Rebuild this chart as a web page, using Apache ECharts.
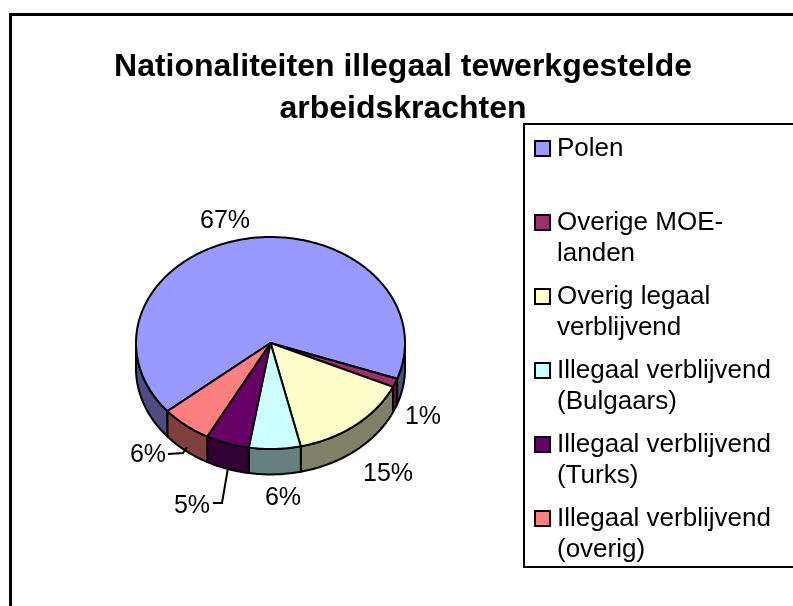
<!DOCTYPE html>
<html>
<head>
<meta charset="utf-8">
<style>
  html, body { margin: 0; padding: 0; background: #fff; }
  #chart { width: 793px; height: 606px; }
</style>
<script src="https://cdn.jsdelivr.net/npm/echarts@6/dist/echarts.min.js"></script>
</head>
<body>
<div id="chart"></div>
<script>
// data
const titleText = 'Nationaliteiten illegaal tewerkgestelde\narbeidskrachten';
const categories = [
  'Polen',
  'Overige MOE-\nlanden',
  'Overig legaal\nverblijvend',
  'Illegaal verblijvend\n(Bulgaars)',
  'Illegaal verblijvend\n(Turks)',
  'Illegaal verblijvend\n(overig)'
];
const values = [66.6, 1.3, 14.6, 6.2, 5.2, 6.1];
const percentLabels = ['67%', '1%', '15%', '6%', '5%', '6%'];
const topColors = ['#9999FF', '#993366', '#FFFFCC', '#CCFFFF', '#660066', '#FF8080'];
const wallColors = ['#4D4D80', '#4D1A33', '#808066', '#668080', '#330033', '#804040'];

// layout (pixels)
const FONT = '"Liberation Sans", Arial, sans-serif';
const START_ANGLE = 140;
const DEPTH = 0.24; // wall height, in y axis units
const labelPos = [[225, 221], [423, 417], [388, 474], [283, 498], [192, 506], [148, 455]];
const leaders = {
  4: [[213, 503], [222, 503], [228, 468]],
  5: [[168, 454], [183, 453], [187, 447]]
};

const total = values.reduce((a, b) => a + b, 0);

// start/end angle of slice i, clockwise on screen from 3 o'clock
function sliceAngles(i) {
  let from = START_ANGLE;
  for (let k = 0; k < i; k++) from += values[k] / total * 360;
  return [from, from + values[i] / total * 360];
}

function arc(api, from, to, dy) {
  const pts = [];
  const n = Math.max(2, Math.ceil(to - from));
  for (let s = 0; s <= n; s++) {
    const a = (from + (to - from) * s / n) * Math.PI / 180;
    pts.push(api.coord([Math.cos(a), Math.sin(a) + dy]));
  }
  return pts;
}

function renderSlice(i) {
  return function (params, api) {
    const [from, to] = sliceAngles(i);
    const children = [];
    // the front half of the rim is the only visible wall
    [[0, 180], [360, 540]].forEach(function (win) {
      const a = Math.max(from, win[0]);
      const b = Math.min(to, win[1]);
      if (b <= a) return;
      const top = arc(api, a, b, 0);
      const bottom = arc(api, a, b, DEPTH).reverse();
      children.push({
        type: 'polygon',
        shape: { points: top.concat(bottom) },
        style: { fill: wallColors[i], stroke: '#000', lineWidth: 2, lineJoin: 'round' }
      });
    });
    children.push({
      type: 'polygon',
      shape: { points: [api.coord([0, 0])].concat(arc(api, from, to, 0)) },
      style: { fill: topColors[i], stroke: '#000', lineWidth: 2, lineJoin: 'round' }
    });
    return { type: 'group', children: children };
  };
}

function renderLabel(i) {
  return function () {
    const children = [{
      type: 'text',
      x: labelPos[i][0],
      y: labelPos[i][1],
      style: {
        text: percentLabels[i], fill: '#000', font: '25px ' + FONT,
        align: 'center', verticalAlign: 'middle'
      }
    }];
    if (leaders[i]) {
      children.push({
        type: 'polyline',
        shape: { points: leaders[i] },
        style: { fill: 'none', stroke: '#000', lineWidth: 2 }
      });
    }
    return { type: 'group', children: children };
  };
}

// a blank first line keeps the swatch level with the first text line
function legendName(c) {
  return c.indexOf('\n') < 0 ? '\n' + c + '\n ' : '\n' + c;
}

const series = categories.map(function (c, i) {
  return {
    type: 'custom',
    name: legendName(c),
    coordinateSystem: 'cartesian2d',
    silent: true,
    itemStyle: { color: topColors[i], borderColor: '#000', borderWidth: 2 },
    renderItem: renderSlice(i),
    data: [[values[i]]],
    z: 2
  };
});
categories.forEach(function (c, i) {
  series.push({
    type: 'custom',
    name: 'label' + i,
    coordinateSystem: 'cartesian2d',
    silent: true,
    renderItem: renderLabel(i),
    data: [[values[i]]],
    z: 3
  });
});

const chart = echarts.init(document.getElementById('chart'), null, { renderer: 'canvas' });
chart.setOption({
  animation: false,
  backgroundColor: '#fff',
  title: {
    text: titleText,
    left: 398,
    top: 41,
    textAlign: 'center',
    textStyle: { fontFamily: FONT, fontSize: 32, fontWeight: 'bold', color: '#000', lineHeight: 42 }
  },
  grid: { left: 136, top: 237, width: 269, height: 212 },
  xAxis: { type: 'value', min: -1, max: 1, show: false },
  yAxis: { type: 'value', min: -1, max: 1, inverse: true, show: false },
  legend: {
    data: categories.map(legendName),
    orient: 'vertical',
    left: 524,
    top: 124,
    align: 'left',
    icon: 'rect',
    itemWidth: 15,
    itemHeight: 15,
    itemGap: -19,
    selectedMode: false,
    padding: [-22, 70, 2, 10],
    backgroundColor: '#fff',
    borderColor: '#000',
    borderWidth: 2,
    textStyle: { fontFamily: FONT, fontSize: 26, color: '#000', lineHeight: 31, padding: [0, 0, 0, 2] },
    z: 5
  },
  graphic: [{
    type: 'rect',
    shape: { x: 10.5, y: 14.5, width: 900, height: 900 },
    style: { fill: 'none', stroke: '#000', lineWidth: 3 },
    silent: true,
    z: 1
  }],
  series: series
});
</script>
</body>
</html>
